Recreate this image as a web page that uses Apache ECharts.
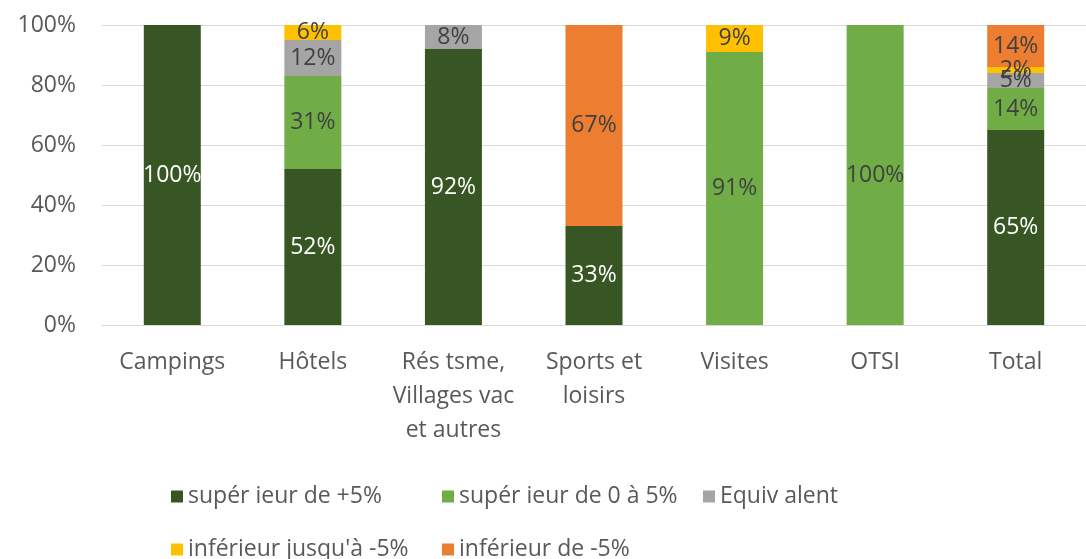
<!DOCTYPE html>
<html>
<head>
<meta charset="utf-8">
<script src="https://cdn.jsdelivr.net/npm/echarts@6/dist/echarts.min.js"></script>
<style>
html,body{margin:0;padding:0;background:#fff;}
#main{width:1086px;height:559px;}
</style>
</head>
<body>
<div id="main"></div>
<script>
// categories
var categories = ['Campings', 'Hôtels', 'Rés tsme,\nVillages vac\net autres', 'Sports et\nloisirs', 'Visites', 'OTSI', 'Total'];
// valeurs en %
var superieur5 = [100, 52, 92, 33, 0, 0, 65];
var superieur0a5 = [0, 31, 0, 0, 91, 100, 14];
var equivalent = [0, 12, 8, 0, 0, 0, 5];
var inferieurJusqua5 = [0, 6, 0, 0, 9, 0, 2];
var inferieur5 = [0, 0, 0, 67, 0, 0, 14];
var yTicks = [0, 20, 40, 60, 80, 100];

var noms = ['supér ieur de +5%', 'supér ieur de 0 à 5%', 'Equiv alent', "inférieur jusqu'à -5%", 'inférieur de -5%'];
var couleurs = ['#375623', '#70AD47', '#A5A5A5', '#FFC000', '#ED7D31'];
var valeurs = [superieur5, superieur0a5, equivalent, inferieurJusqua5, inferieur5];
var couleursTexte = ['#ffffff', '#404040', '#404040', '#404040', '#404040'];

var police = '"Open Sans", sans-serif';

var series = [];
for (var i = 0; i < noms.length; i++) {
	series.push({
		name: noms[i],
		type: 'bar',
		stack: 'total',
		barWidth: 57,
		itemStyle: {color: couleurs[i]},
		label: {
			show: true,
			position: 'inside',
			color: couleursTexte[i],
			fontFamily: police,
			fontSize: 23,
			formatter: function(p){ return p.value ? p.value + '%' : ''; }
		},
		data: valeurs[i]
	});
}

// legende : une par element pour placer comme dans Excel
var positions = [[166, 480], [437, 480], [698, 480], [166, 533], [437, 533]];
var legendes = [];
for (var j = 0; j < noms.length; j++) {
	legendes.push({
		left: positions[j][0],
		top: positions[j][1],
		data: [noms[j]],
		icon: 'rect',
		itemWidth: 12,
		itemHeight: 12,
		itemGap: 6,
		textStyle: {color: '#595959', fontFamily: police, fontSize: 23}
	});
}

var myChart = echarts.init(document.getElementById('main'));
myChart.setOption({
	animation: false,
	grid: {left: 102, top: 25, width: 989, height: 300, containLabel: false},
	legend: legendes,
	xAxis: {
		type: 'category',
		data: categories,
		axisLine: {lineStyle: {color: '#d9d9d9', width: 1}},
		axisTick: {show: false},
		axisLabel: {
			color: '#595959',
			fontFamily: police,
			fontSize: 23,
			lineHeight: 34,
			margin: 20,
			interval: 0
		}
	},
	yAxis: {
		type: 'value',
		min: yTicks[0],
		max: yTicks[yTicks.length - 1],
		interval: 20,
		axisLine: {show: false},
		axisTick: {show: false},
		splitLine: {lineStyle: {color: '#d9d9d9', width: 1}},
		axisLabel: {
			color: '#595959',
			fontFamily: police,
			fontSize: 23,
			margin: 26,
			formatter: '{value}%'
		}
	},
	series: series
});
</script>
</body>
</html>
